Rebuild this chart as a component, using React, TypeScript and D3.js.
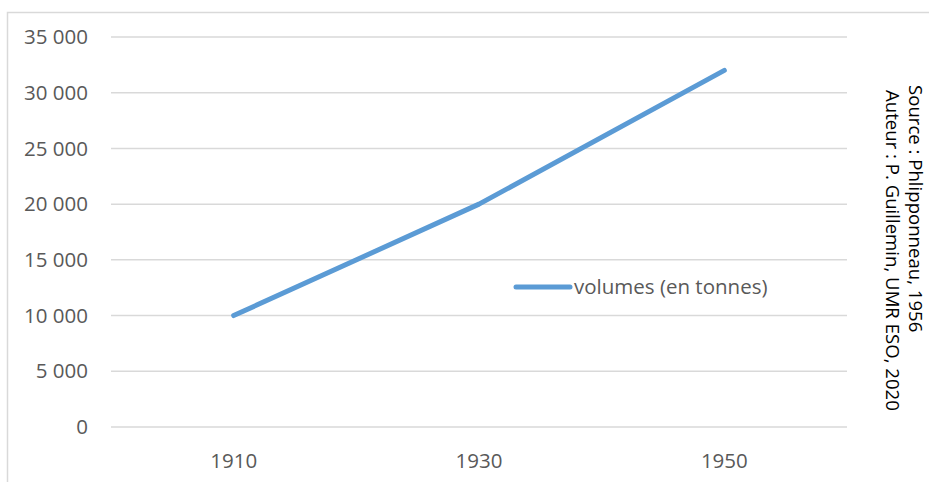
import React, { useRef, useEffect } from "react";
import * as d3 from "d3";

const years = ["1910", "1930", "1950"];
const volumes = [10000, 20000, 32000];
const yTicks = [0, 5000, 10000, 15000, 20000, 25000, 30000, 35000];
const seriesName = "volumes (en tonnes)";
const creditLines = ["Source : Phlipponneau, 1956", "Auteur : P. Guillemin, UMR ESO, 2020"];

const W = 929;
const H = 482;
const FONT = "'Open Sans', sans-serif";

export default function App() {
  const svgRef = useRef<SVGSVGElement>(null);

  useEffect(() => {
    if (!svgRef.current) return;
    const svg = d3.select(svgRef.current);
    svg.selectAll("*").remove();

    const left = 111;
    const right = 847;
    const top = 37;
    const bottom = 427;

    const x = d3.scalePoint<string>().domain(years).range([left, right]).padding(0.5);
    const y = d3.scaleLinear().domain([0, 35000]).range([bottom, top]);

    // chart frame (only top and left edges visible)
    svg.append("path")
      .attr("d", `M7.5,${H} V12.5 H${W}`)
      .attr("fill", "none")
      .attr("stroke", "#d9d9d9")
      .attr("stroke-width", 1.5);

    // gridlines
    svg.append("g")
      .selectAll("line")
      .data(yTicks)
      .join("line")
      .attr("x1", left)
      .attr("x2", right)
      .attr("y1", (d) => y(d))
      .attr("y2", (d) => y(d))
      .attr("stroke", "#d9d9d9")
      .attr("stroke-width", 1.5);

    const fmt = (v: number) => d3.format(",")(v).replace(/,/g, " ");

    svg.append("g")
      .selectAll("text")
      .data(yTicks)
      .join("text")
      .attr("x", 88)
      .attr("y", (d) => y(d))
      .attr("dy", "0.35em")
      .attr("text-anchor", "end")
      .attr("font-family", FONT)
      .attr("font-size", 20.5)
      .attr("fill", "#595959")
      .text(fmt);

    svg.append("g")
      .selectAll("text")
      .data(years)
      .join("text")
      .attr("x", (d) => x(d)!)
      .attr("y", 461)
      .attr("dy", "0.35em")
      .attr("text-anchor", "middle")
      .attr("font-family", FONT)
      .attr("font-size", 20.5)
      .attr("fill", "#595959")
      .text((d) => d);

    const line = d3.line<number>()
      .x((_, i) => x(years[i])!)
      .y((d) => y(d));

    svg.append("path")
      .datum(volumes)
      .attr("d", line)
      .attr("fill", "none")
      .attr("stroke", "#5b9bd5")
      .attr("stroke-width", 5)
      .attr("stroke-linecap", "round")
      .attr("stroke-linejoin", "round");

    // legend
    const lg = svg.append("g").attr("transform", "translate(514,287)");
    lg.append("line")
      .attr("x1", 2)
      .attr("x2", 56)
      .attr("stroke", "#5b9bd5")
      .attr("stroke-width", 5)
      .attr("stroke-linecap", "round");
    lg.append("text")
      .attr("x", 60)
      .attr("dy", "0.35em")
      .attr("font-family", FONT)
      .attr("font-size", 20.5)
      .attr("fill", "#595959")
      .text(seriesName);

    // rotated credits
    const credits = [
      { text: creditLines[0], x: 909, y: 85 },
      { text: creditLines[1], x: 886, y: 90 },
    ];
    svg.append("g")
      .selectAll("text")
      .data(credits)
      .join("text")
      .attr("transform", (d) => `translate(${d.x},${d.y}) rotate(90)`)
      .attr("font-family", FONT)
      .attr("font-size", 18.6)
      .attr("fill", "#000")
      .text((d) => d.text);
  }, []);

  return (
    <svg
      ref={svgRef}
      width={W}
      height={H}
      style={{ position: "absolute", left: 0, top: 0, background: "#fff" }}
    />
  );
}
